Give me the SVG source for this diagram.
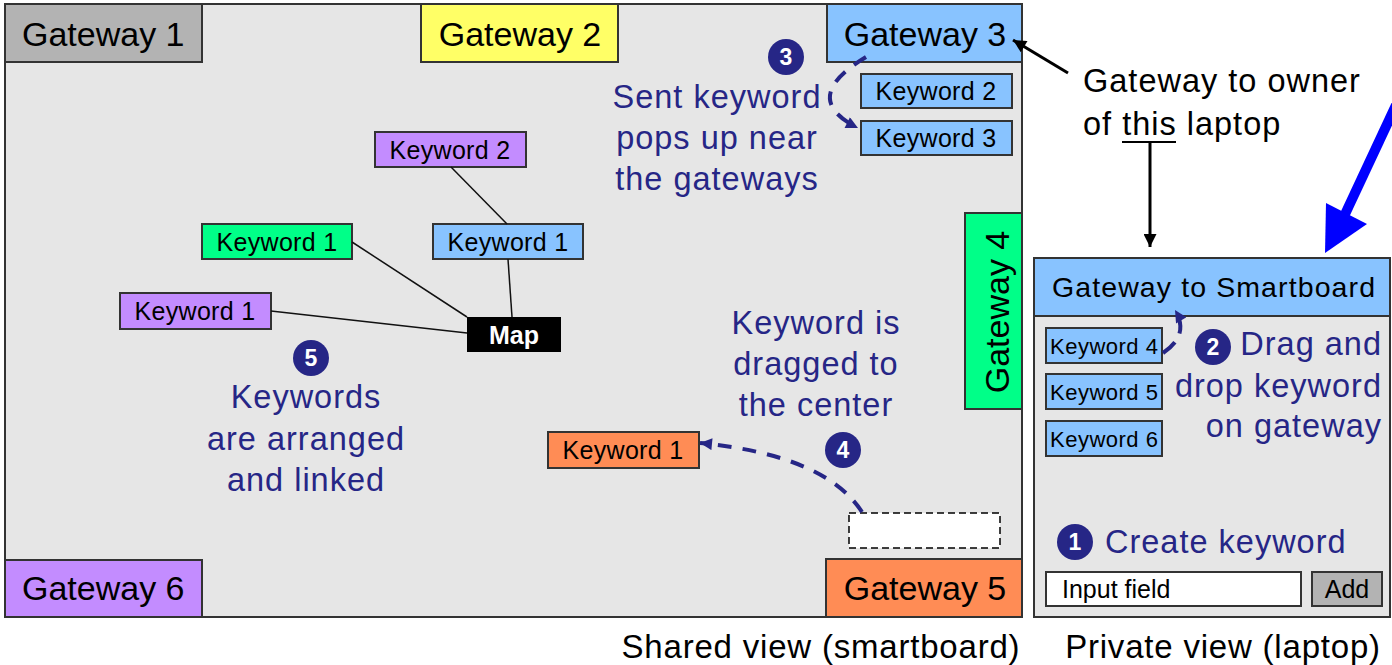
<svg xmlns="http://www.w3.org/2000/svg" width="1392" height="665" viewBox="0 0 1392 665">
<style>
.panel{fill:#e6e6e6;stroke:#333;stroke-width:2}
.box{stroke:#333;stroke-width:2}
.gw{font-family:"Liberation Sans",Arial,sans-serif;font-size:34px;fill:#000}
.kw{font-family:"Liberation Sans",Arial,sans-serif;font-size:25px;fill:#000;letter-spacing:0.3px}
.kws{font-family:"Liberation Sans",Arial,sans-serif;font-size:22px;fill:#000;letter-spacing:0.5px}
.note{font-family:"Liberation Sans",Arial,sans-serif;font-size:32.5px;fill:#262686;letter-spacing:1px}
.black{font-family:"Liberation Sans",Arial,sans-serif;font-size:32.5px;fill:#000;letter-spacing:1px}
.cap{font-family:"Liberation Sans",Arial,sans-serif;font-size:33px;fill:#000;letter-spacing:0.8px}
.badge{fill:#262686}
.bn{font-family:"Liberation Sans",Arial,sans-serif;font-size:23px;font-weight:bold;fill:#fff;text-anchor:middle}
.blue{fill:#88c3ff}.green{fill:#00ff88}.purple{fill:#c38cff}.orange{fill:#ff8c55}.yellow{fill:#ffff66}.gray{fill:#b3b3b3}
.link{stroke:#111;stroke-width:1.5;fill:none}
.dash{stroke:#262686;stroke-width:4;fill:none;stroke-dasharray:14 11}
.blk{stroke:#000;stroke-width:3;fill:none}
</style>
<defs>
<marker id="mNavy" viewBox="0 0 10 10" refX="10" refY="5" markerWidth="14" markerHeight="12" markerUnits="userSpaceOnUse" orient="auto"><path d="M0,0 L10,5 L0,10 z" fill="#262686"/></marker>
<marker id="mBlack" viewBox="0 0 10 10" refX="10" refY="5" markerWidth="15" markerHeight="13" markerUnits="userSpaceOnUse" orient="auto"><path d="M0,0 L10,5 L0,10 z" fill="#000"/></marker>
</defs>

<g id="smartboard">
<rect class="panel" x="5" y="4" width="1017" height="613"/>
</g>
<g id="laptop">
<rect class="panel" x="1034" y="258" width="356" height="359"/>
</g>

<g id="gateway1"><rect class="box gray" x="5" y="4" width="197" height="58"/><text class="gw" x="22" y="46">Gateway 1</text></g>
<g id="gateway2"><rect class="box yellow" x="421" y="4" width="197" height="58"/><text class="gw" x="520" y="46" text-anchor="middle">Gateway 2</text></g>
<g id="gateway3"><rect class="box blue" x="827" y="4" width="195" height="58"/><text class="gw" x="925" y="46" text-anchor="middle">Gateway 3</text></g>
<g id="gateway4"><rect class="box green" x="965" y="213" width="57" height="196"/><text class="gw" transform="translate(1009,312) rotate(-90)" text-anchor="middle">Gateway 4</text></g>
<g id="gateway5"><rect class="box orange" x="826" y="559" width="196" height="58"/><text class="gw" x="925" y="600" text-anchor="middle">Gateway 5</text></g>
<g id="gateway6"><rect class="box purple" x="5" y="560" width="197" height="57"/><text class="gw" x="22" y="600">Gateway 6</text></g>

<g id="sent-kw2"><rect class="box blue" x="861" y="74" width="151" height="34"/><text class="kw" x="936" y="100" text-anchor="middle">Keyword 2</text></g>
<g id="sent-kw3"><rect class="box blue" x="861" y="121" width="151" height="34"/><text class="kw" x="936" y="147" text-anchor="middle">Keyword 3</text></g>

<g id="map-kw2"><rect class="box purple" x="375" y="132" width="151" height="35"/><text class="kw" x="450" y="159" text-anchor="middle">Keyword 2</text></g>
<g id="map-kw1-blue"><rect class="box blue" x="433" y="224" width="150" height="35"/><text class="kw" x="508" y="251" text-anchor="middle">Keyword 1</text></g>
<g id="map-kw1-green"><rect class="box green" x="202" y="224" width="150" height="35"/><text class="kw" x="277" y="251" text-anchor="middle">Keyword 1</text></g>
<g id="map-kw1-purple"><rect class="box purple" x="120" y="293" width="151" height="36"/><text class="kw" x="195" y="320" text-anchor="middle">Keyword 1</text></g>
<g id="map"><rect x="467" y="317" width="94" height="35" fill="#000"/><text x="514" y="344" text-anchor="middle" font-family="'Liberation Sans',Arial,sans-serif" font-size="25" font-weight="bold" fill="#fff">Map</text></g>

<g id="dragged-kw1"><rect class="box orange" x="548" y="432" width="151" height="36"/><text class="kw" x="623" y="459" text-anchor="middle">Keyword 1</text></g>
<g id="drop-slot"><rect x="849" y="513" width="151" height="35" fill="#fff" stroke="#000" stroke-width="1.5" stroke-dasharray="7 4"/></g>

<g id="gw-smartboard"><rect class="box blue" x="1034" y="258" width="356" height="58"/><text class="black" x="1052" y="297" style="font-size:28.5px;letter-spacing:1.1px">Gateway to Smartboard</text></g>
<g id="kw4"><rect class="box blue" x="1046" y="328" width="116" height="35"/><text class="kws" x="1050" y="354">Keyword 4</text></g>
<g id="kw5"><rect class="box blue" x="1046" y="374" width="116" height="35"/><text class="kws" x="1050" y="400">Keyword 5</text></g>
<g id="kw6"><rect class="box blue" x="1046" y="421" width="116" height="35"/><text class="kws" x="1050" y="447">Keyword 6</text></g>
<g id="input-field"><rect x="1046" y="572" width="255" height="34" fill="#fff" stroke="#333" stroke-width="2"/><text class="kw" x="1062" y="598" style="letter-spacing:0">Input field</text></g>
<g id="add-button"><rect class="box gray" x="1312" y="572" width="70" height="34"/><text class="kw" x="1347" y="598" text-anchor="middle" style="letter-spacing:0">Add</text></g>

<g id="step1"><circle class="badge" cx="1075" cy="542" r="18"/><text class="bn" x="1075" y="550">1</text><text class="note" x="1105" y="553">Create keyword</text></g>
<g id="step2"><circle class="badge" cx="1213" cy="347" r="18"/><text class="bn" x="1213" y="355">2</text>
<text class="note" text-anchor="end" x="1382"><tspan x="1382" y="355">Drag and</tspan><tspan x="1382" y="397">drop keyword</tspan><tspan x="1382" y="437">on gateway</tspan></text></g>
<g id="step3"><circle class="badge" cx="786" cy="57" r="18"/><text class="bn" x="786" y="65">3</text>
<text class="note" text-anchor="middle"><tspan x="717" y="108">Sent keyword</tspan><tspan x="717" y="149">pops up near</tspan><tspan x="717" y="190">the gateways</tspan></text></g>
<g id="step4"><circle class="badge" cx="843" cy="450" r="18"/><text class="bn" x="843" y="458">4</text>
<text class="note" text-anchor="middle"><tspan x="816" y="334">Keyword is</tspan><tspan x="816" y="375">dragged to</tspan><tspan x="816" y="416">the center</tspan></text></g>
<g id="step5"><circle class="badge" cx="311" cy="358" r="18"/><text class="bn" x="311" y="366">5</text>
<text class="note" text-anchor="middle"><tspan x="306" y="408">Keywords</tspan><tspan x="306" y="450">are arranged</tspan><tspan x="306" y="491">and linked</tspan></text></g>

<g id="owner-label"><text class="black"><tspan x="1083" y="92">Gateway to owner</tspan><tspan x="1083" y="135">of this laptop</tspan></text>
<line x1="1122" y1="142" x2="1176" y2="142" stroke="#000" stroke-width="2"/></g>

<g id="captions">
<text class="cap" x="821" y="658" text-anchor="middle">Shared view (smartboard)</text>
<text class="cap" x="1223" y="658" text-anchor="middle">Private view (laptop)</text>
</g>

<g id="connectors">
<line class="link" x1="451" y1="167" x2="507" y2="224"/>
<line class="link" x1="508" y1="259" x2="512" y2="317"/>
<line class="link" x1="352" y1="242" x2="467" y2="317"/>
<line class="link" x1="271" y1="311" x2="467" y2="333"/>
<path class="dash" d="M866,57 Q798,98 858,128" marker-end="url(#mNavy)"/>
<path class="dash" d="M862,512 Q825,455 700,443" marker-end="url(#mNavy)"/>
<path class="dash" d="M1163,353 Q1190,335 1175,310" style="stroke-dasharray:16 10" marker-end="url(#mNavy)"/>
<line class="blk" x1="1068" y1="73" x2="1013" y2="40" marker-end="url(#mBlack)"/>
<line class="blk" x1="1150" y1="143" x2="1150" y2="247" marker-end="url(#mBlack)"/>
<line x1="1396" y1="105" x2="1340" y2="225" stroke="#0000ff" stroke-width="10"/>
<polygon points="1325,253 1326,203 1367,224" fill="#0000ff"/>
</g>
</svg>
